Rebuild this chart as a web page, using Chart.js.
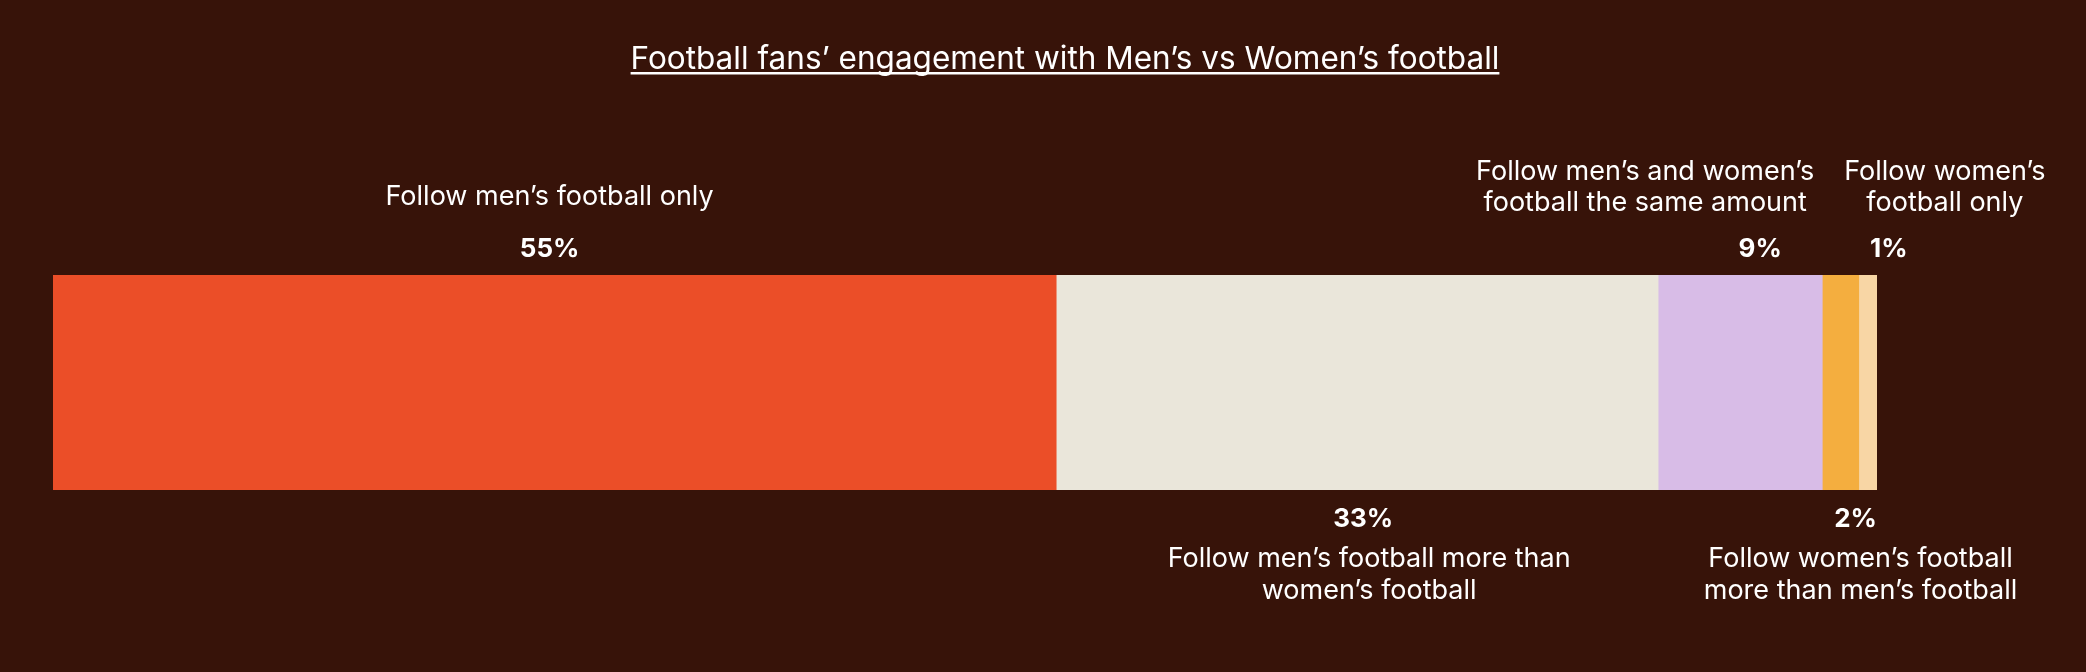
<!DOCTYPE html>
<html>
<head>
<meta charset="utf-8">
<title>Football fans’ engagement with Men’s vs Women’s football</title>
<script src="https://cdn.jsdelivr.net/npm/chart.js@4.4.1/dist/chart.umd.min.js"></script>
<style>
  html, body { margin: 0; padding: 0; background: #371309; }
  #wrap { position: relative; width: 2086px; height: 672px; }
</style>
</head>
<body>
<div id="wrap"><canvas id="grafico"></canvas></div>
<script>
// Dados
const categorias = ['Football fans'];
const segmentos = [
    ['Follow men’s football only'],
    ['Follow men’s football more than', 'women’s football'],
    ['Follow men’s and women’s', 'football the same amount'],
    ['Follow women’s football', 'more than men’s football'],
    ['Follow women’s', 'football only']
];
const valores = [55, 33, 9, 2, 1];
const rotulosPct = ['55%', '33%', '9%', '2%', '1%'];
const titulo = 'Football fans’ engagement with Men’s vs Women’s football';

// Estilo
const cores = ['#EB4E28', '#EAE6DA', '#D8BCE7', '#F4AE3F', '#F8D6A5'];
const acima = [true, false, true, false, true];
const deslocPct = [-5, 6, 20, 15, 21];
const deslocTexto = [-5, 12, -95, 20, 77];
const fonte = 'Inter, "Noto Sans", sans-serif';

const rotulos = {
    id: 'rotulos',
    afterDatasetsDraw(chart) {
        const ctx = chart.ctx;
        ctx.save();
        ctx.fillStyle = '#FFFFFF';
        ctx.textAlign = 'center';
        ctx.textBaseline = 'middle';

        // titulo sublinhado
        ctx.font = '400 31.5px ' + fonte;
        const tx = 1065;
        ctx.fillText(titulo, tx, 60);
        const w = ctx.measureText(titulo).width;
        ctx.fillRect(tx - w / 2, 72, w, 2.5);

        chart.data.datasets.forEach((ds, i) => {
            const bar = chart.getDatasetMeta(i).data[0];
            const cx = (bar.base + bar.x) / 2;
            const topo = bar.y - bar.height / 2;
            const baixo = bar.y + bar.height / 2;
            const linhas = segmentos[i];

            ctx.font = '700 26px ' + fonte;
            if (acima[i]) {
                ctx.fillText(rotulosPct[i], cx + deslocPct[i], topo - 26);
                ctx.font = '400 27px ' + fonte;
                const ultima = linhas.length > 1 ? topo - 72 : topo - 78;
                linhas.forEach((l, k) => {
                    ctx.fillText(l, cx + deslocTexto[i], ultima - (linhas.length - 1 - k) * 31);
                });
            } else {
                ctx.fillText(rotulosPct[i], cx + deslocPct[i], baixo + 29);
                ctx.font = '400 27px ' + fonte;
                linhas.forEach((l, k) => {
                    ctx.fillText(l, cx + deslocTexto[i], baixo + 69 + k * 32);
                });
            }
        });
        ctx.restore();
    }
};

const ctx = document.getElementById('grafico').getContext('2d');
const grafico = new Chart(ctx, {
    type: 'bar',
    data: {
        labels: categorias,
        datasets: valores.map((v, i) => ({
            label: segmentos[i].join(' '),
            data: [v],
            backgroundColor: cores[i],
            borderWidth: 0,
            barPercentage: 1,
            categoryPercentage: 1
        }))
    },
    options: {
        indexAxis: 'y',
        responsive: true,
        maintainAspectRatio: false,
        devicePixelRatio: 1,
        animation: false,
        layout: { padding: { left: 53, right: 209, top: 275, bottom: 182 } },
        scales: {
            x: { stacked: true, min: 0, max: 100, display: false },
            y: { stacked: true, display: false }
        },
        plugins: {
            legend: { display: false },
            tooltip: { enabled: false },
            title: { display: false }
        }
    },
    plugins: [rotulos]
});
</script>
</body>
</html>
